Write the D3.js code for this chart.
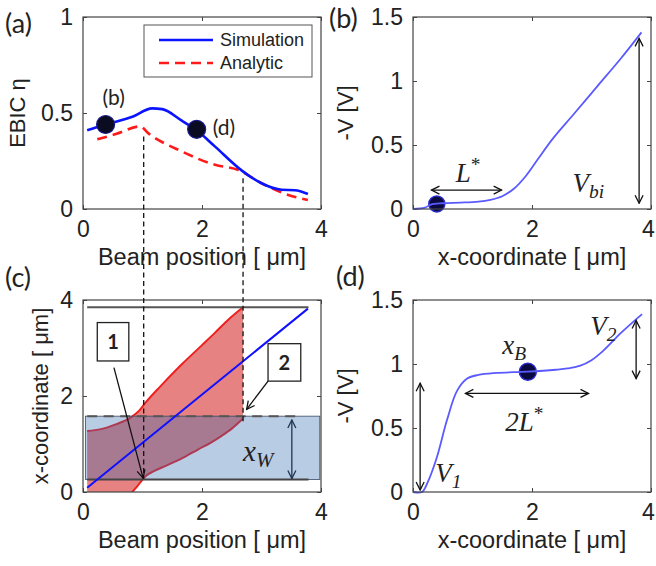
<!DOCTYPE html>
<html>
<head>
<meta charset="utf-8">
<script src="https://cdn.jsdelivr.net/npm/d3@7"></script>
<style>
body{margin:0;background:#fff;}
text{font-family:"Liberation Sans",Arial,sans-serif;fill:#222;}
.math{font-family:"Liberation Serif","Times New Roman",serif;font-style:italic;}
.tag{font-family:Lato,"Open Sans",sans-serif;}
</style>
</head>
<body>
<svg id="fig" width="656" height="566"></svg>
<script>
// (a) EBIC vs beam position
const simX = [0.07, 0.38, 0.83, 1.16, 1.33, 1.66, 1.91, 2.22, 2.67, 3.0, 3.34, 3.56, 3.78];
const simY = [0.41, 0.44, 0.48, 0.524, 0.52, 0.46, 0.41, 0.325, 0.2, 0.134, 0.1, 0.098, 0.078];
const anaX = [0.24, 0.55, 0.96, 1.1, 1.66, 2.22, 2.61, 3.0, 3.45, 3.78];
const anaY = [0.363, 0.39, 0.43, 0.394, 0.30, 0.23, 0.203, 0.134, 0.073, 0.047];
const markA = [[0.38, 0.44, "(b)"], [1.91, 0.415, "(d)"]];

// (b) potential, beam at 0.4 um
const vbX = [0, 0.2, 0.3, 0.5, 0.8, 1.1, 1.3, 1.5, 1.7, 1.9, 2.1, 2.35, 2.7, 3.1, 3.5, 3.84];
const vbY = [0, 0.01, 0.035, 0.045, 0.05, 0.058, 0.072, 0.1, 0.16, 0.26, 0.39, 0.55, 0.74, 0.96, 1.18, 1.38];

// (c) collection region
const upX = [0.07, 0.3, 0.55, 0.8, 0.94, 1.05, 1.3, 1.66, 2.0, 2.22, 2.45, 2.69];
const upY = [1.27, 1.31, 1.41, 1.55, 1.69, 1.86, 2.2, 2.66, 3.06, 3.32, 3.6, 3.85];
const loX = [0.8, 0.9, 1.05, 1.2, 1.38, 1.66, 1.94, 2.15, 2.33, 2.5, 2.69];
const loY = [-0.04, 0.1, 0.33, 0.44, 0.54, 0.7, 0.89, 1.03, 1.17, 1.32, 1.53];
const diagX = [0.07, 3.78];
const diagY = [0.09, 3.82];
const bandY = [0.26, 1.58];

// (d) potential, beam at 1.93 um
const vdX = [0, 0.15, 0.25, 0.4, 0.57, 0.74, 0.91, 1.1, 1.4, 1.92, 2.4, 2.6, 2.8, 3.0, 3.2, 3.5, 3.85];
const vdY = [0, 0, 0.08, 0.27, 0.56, 0.79, 0.886, 0.915, 0.93, 0.94, 0.955, 0.965, 0.985, 1.03, 1.105, 1.245, 1.39];
const markD = [1.93, 0.94];

const svg = d3.select("#fig");
svg.append("rect").attr("width", 656).attr("height", 566).attr("fill", "#fff");

const defs = svg.append("defs");
function arrowDef(id, col) {
  defs.append("marker").attr("id", id)
    .attr("viewBox", "0 0 10 10").attr("refX", 9).attr("refY", 5)
    .attr("markerWidth", 10).attr("markerHeight", 10)
    .attr("markerUnits", "userSpaceOnUse")
    .attr("orient", "auto-start-reverse")
    .append("path").attr("d", "M1,1 L9,5 L1,9")
    .attr("fill", "none").attr("stroke", col).attr("stroke-width", 1.3);
}
arrowDef("ah", "#111");
arrowDef("ahn", "#1f3552");

function panel(left, top, yDomain, yTicks) {
  const w = 238, h = 192;
  const g = svg.append("g").attr("transform", `translate(${left},${top})`);
  const x = d3.scaleLinear().domain([0, 4]).range([0, w]);
  const y = d3.scaleLinear().domain(yDomain).range([h, 0]);
  const fmt = d => d3.format("~g")(d);

  const xb = g.append("g").attr("class", "ax").attr("transform", `translate(0,${h})`)
    .call(d3.axisBottom(x).tickValues([0, 2, 4]).tickSizeInner(-4).tickSizeOuter(0).tickPadding(12).tickFormat(fmt));
  g.append("g").attr("class", "ax")
    .call(d3.axisTop(x).tickValues([0, 2, 4]).tickSizeInner(-4).tickSizeOuter(0).tickFormat(""));
  g.append("g").attr("class", "ax")
    .call(d3.axisLeft(y).tickValues(yTicks).tickSizeInner(-4).tickSizeOuter(0).tickPadding(10).tickFormat(fmt));
  g.append("g").attr("class", "ax").attr("transform", `translate(${w},0)`)
    .call(d3.axisRight(y).tickValues(yTicks).tickSizeInner(-4).tickSizeOuter(0).tickFormat(""));
  g.selectAll(".ax .domain").remove();
  g.selectAll(".ax line").attr("stroke", "#444");
  g.selectAll(".ax text").attr("font-size", 23).attr("fill", "#222")
    .attr("font-family", "Liberation Sans, Arial, sans-serif");
  // keep the last label inside the page on the right column
  if (left + w > 600) xb.selectAll(".tick:last-of-type text").attr("dx", -3);

  const plot = g.append("g");
  g.append("rect").attr("width", w).attr("height", h)
    .attr("fill", "none").attr("stroke", "#444").attr("stroke-width", 1.2);
  return {g, plot, x, y, w, h};
}

function xlabel(p, txt) {
  p.g.append("text").attr("x", p.w / 2).attr("y", p.h + 56)
    .attr("text-anchor", "middle").attr("font-size", 23.5).text(txt);
}
function ylabel(p, txt, dx) {
  p.g.append("text").attr("transform", `translate(${dx},${p.h / 2}) rotate(-90)`)
    .attr("text-anchor", "middle").attr("dominant-baseline", "central")
    .attr("font-size", 22).text(txt);
}
function tag(x, y, txt) {
  svg.append("text").attr("class", "tag").attr("x", x).attr("y", y)
    .attr("font-size", 27).text(txt);
}
function mathText(p, x, y, base, sub, sup, size) {
  const s = size || 27;
  const t = p.g.append("text").attr("class", "math")
    .attr("x", p.x(x)).attr("y", p.y(y)).attr("font-size", s).attr("fill", "#111");
  t.append("tspan").text(base);
  if (sub) t.append("tspan").attr("font-size", s * 0.72).attr("dy", 6).text(sub);
  if (sup) t.append("tspan").attr("font-size", s * 0.72).attr("font-style", "normal").attr("dy", -11).text(sup);
  return t;
}
function arrow(p, x1, y1, x2, y2, both, id) {
  const l = p.g.append("line")
    .attr("x1", p.x(x1)).attr("y1", p.y(y1)).attr("x2", p.x(x2)).attr("y2", p.y(y2))
    .attr("stroke", id === "ahn" ? "#1f3552" : "#111").attr("stroke-width", 1.3)
    .attr("marker-end", `url(#${id || "ah"})`);
  if (both) l.attr("marker-start", `url(#${id || "ah"})`);
}

const line = d3.line().curve(d3.curveMonotoneX);
const smooth = d3.line().curve(d3.curveCatmullRom.alpha(0.5));

// ---------- (a)
const pa = panel(83, 17, [0, 1], [0, 0.5, 1]);
pa.plot.append("path").attr("d", line(anaX.map((d, i) => [pa.x(d), pa.y(anaY[i])])))
  .attr("fill", "none").attr("stroke", "#ff1a1a").attr("stroke-width", 2.6).attr("stroke-dasharray", "10,6");
pa.plot.append("path").attr("d", line(simX.map((d, i) => [pa.x(d), pa.y(simY[i])])))
  .attr("fill", "none").attr("stroke", "#0a14ff").attr("stroke-width", 2.6);
pa.plot.selectAll("circle.m").data(markA).join("circle")
  .attr("cx", d => pa.x(d[0])).attr("cy", d => pa.y(d[1])).attr("r", 9)
  .attr("fill", "#0b0b22").attr("stroke", "#1a1a90").attr("stroke-width", 1.2);
pa.g.append("text").attr("class", "tag").attr("x", pa.x(markA[0][0]) + 8).attr("y", 105 - 17)
  .attr("text-anchor", "middle").attr("font-size", 21).text(markA[0][2]);
pa.g.append("text").attr("class", "tag").attr("x", pa.x(markA[1][0]) + 16).attr("y", 135 - 17)
  .attr("font-size", 21).text(markA[1][2]);
// legend
const lg = pa.g.append("g").attr("transform", "translate(61,8)");
lg.append("rect").attr("width", 168).attr("height", 52).attr("fill", "#fff").attr("stroke", "#555").attr("stroke-width", 1);
lg.append("line").attr("x1", 15).attr("x2", 69).attr("y1", 15).attr("y2", 15).attr("stroke", "#0a14ff").attr("stroke-width", 2.6);
lg.append("line").attr("x1", 15).attr("x2", 69).attr("y1", 38).attr("y2", 38).attr("stroke", "#ff1a1a").attr("stroke-width", 2.6).attr("stroke-dasharray", "10,6");
lg.append("text").attr("x", 76).attr("y", 21).attr("font-size", 18).text("Simulation");
lg.append("text").attr("x", 76).attr("y", 44).attr("font-size", 18).text("Analytic");
xlabel(pa, "Beam position [ μm]");
ylabel(pa, "EBIC η", -66);
tag(5, 33, "(a)");

// ---------- (b)
const pb = panel(413, 17, [0, 1.5], [0, 0.5, 1, 1.5]);
pb.plot.append("circle").attr("cx", pb.x(0.4)).attr("cy", pb.y(0.04)).attr("r", 8)
  .attr("fill", "#0a0a40").attr("stroke", "#2828c8").attr("stroke-width", 1.5);
pb.plot.append("path").attr("d", smooth(vbX.map((d, i) => [pb.x(d), pb.y(vbY[i])])))
  .attr("fill", "none").attr("stroke", "#5a5aff").attr("stroke-width", 1.8);
arrow(pb, 0.31, 0.148, 1.49, 0.148, true);
arrow(pb, 3.8, 1.333, 3.8, 0.045, true);
mathText(pb, 0.72, 0.21, "L", null, "*");
mathText(pb, 2.68, 0.135, "V", "bi");
xlabel(pb, "x-coordinate [ μm]");
ylabel(pb, "-V [V]", -68);
tag(329, 28, "(b)");

// ---------- (c)
const pc = panel(83, 300, [0, 4], [0, 2, 4]);
defs.append("clipPath").attr("id", "cclip")
  .append("rect").attr("width", pc.w).attr("height", pc.h);
const cp = pc.plot.attr("clip-path", "url(#cclip)");
// red collection region
const regionPts = upX.map((d, i) => [pc.x(d), pc.y(upY[i])])
  .concat(loX.slice().reverse().map((d, i) => [pc.x(d), pc.y(loY[loY.length - 1 - i])]))
  .concat([[pc.x(upX[0]), pc.y(-0.1)]]);
cp.append("path").attr("d", d3.line()(regionPts) + "Z").attr("fill", "#e68282").attr("stroke", "none");
cp.append("path").attr("d", line(upX.map((d, i) => [pc.x(d), pc.y(upY[i])])))
  .attr("fill", "none").attr("stroke", "#ee2020").attr("stroke-width", 2);
cp.append("path").attr("d", line(loX.map((d, i) => [pc.x(d), pc.y(loY[i])])))
  .attr("fill", "none").attr("stroke", "#ee2020").attr("stroke-width", 2);
// depletion band
cp.append("rect").attr("x", pc.x(0.04)).attr("width", pc.x(3.98) - pc.x(0.04))
  .attr("y", pc.y(bandY[1])).attr("height", pc.y(bandY[0]) - pc.y(bandY[1]))
  .attr("fill", "rgb(52,109,178)").attr("fill-opacity", 0.35)
  .attr("stroke", "#3a4a66").attr("stroke-width", 0.8);
cp.append("line").attr("x1", pc.x(0.07)).attr("x2", pc.x(3.79)).attr("y1", pc.y(bandY[0])).attr("y2", pc.y(bandY[0]))
  .attr("stroke", "#444").attr("stroke-width", 1.8);
cp.append("line").attr("x1", pc.x(0.07)).attr("x2", pc.x(3.67)).attr("y1", pc.y(bandY[1])).attr("y2", pc.y(bandY[1]))
  .attr("stroke", "#555").attr("stroke-width", 2).attr("stroke-dasharray", "10,6.5");
cp.append("line").attr("x1", pc.x(0.07)).attr("x2", pc.x(3.79)).attr("y1", pc.y(3.85)).attr("y2", pc.y(3.85))
  .attr("stroke", "#555").attr("stroke-width", 2);
cp.append("path").attr("d", d3.line()(diagX.map((d, i) => [pc.x(d), pc.y(diagY[i])])))
  .attr("fill", "none").attr("stroke", "#1010ff").attr("stroke-width", 2);
// numbered boxes
[[0.24, 0.77, 3.53, 2.73, "1"], [3.11, 3.66, 3.09, 2.31, "2"]].forEach(b => {
  pc.g.append("rect").attr("x", pc.x(b[0])).attr("y", pc.y(b[2]))
    .attr("width", pc.x(b[1]) - pc.x(b[0])).attr("height", pc.y(b[3]) - pc.y(b[2]))
    .attr("fill", "#fff").attr("stroke", "#222").attr("stroke-width", 1.3);
  pc.g.append("text").attr("class", "tag").attr("x", (pc.x(b[0]) + pc.x(b[1])) / 2)
    .attr("y", (pc.y(b[2]) + pc.y(b[3])) / 2).attr("dy", "0.36em")
    .attr("text-anchor", "middle").attr("font-size", 20).attr("font-weight", 700).text(b[4]);
});
arrow(pc, 0.52, 2.59, 1.01, 0.29, false);
arrow(pc, 3.11, 2.31, 2.75, 1.72, false);
arrow(pc, 3.51, 1.5, 3.51, 0.28, true, "ahn");
mathText(pc, 2.69, 0.65, "x", "W", null, 29).attr("fill", "#1f3552");
xlabel(pc, "Beam position [ μm]");
ylabel(pc, "x-coordinate [ μm]", -43);
tag(5, 287, "(c)");

// ---------- (d)
const pd = panel(413, 300, [0, 1.5], [0, 0.5, 1, 1.5]);
pd.plot.append("circle").attr("cx", pd.x(markD[0])).attr("cy", pd.y(markD[1])).attr("r", 8.5)
  .attr("fill", "#0a0a40").attr("stroke", "#2828c8").attr("stroke-width", 1.5);
pd.plot.append("path").attr("d", smooth(vdX.map((d, i) => [pd.x(d), pd.y(vdY[i])])))
  .attr("fill", "none").attr("stroke", "#5a5aff").attr("stroke-width", 1.8);
arrow(pd, 0.12, 0.85, 0.12, 0.015, true);
arrow(pd, 0.88, 0.77, 2.95, 0.77, true);
arrow(pd, 3.75, 1.34, 3.75, 0.886, true);
mathText(pd, 0.375, 0.078, "V", "1");
mathText(pd, 2.98, 1.224, "V", "2");
mathText(pd, 1.5, 1.08, "x", "B");
mathText(pd, 1.55, 0.48, "2L", null, "*");
xlabel(pd, "x-coordinate [ μm]");
ylabel(pd, "-V [V]", -68);
tag(336, 286, "(d)");

// dashed guides from (a) down to (c)
[[1.02, 0.377, 0.28], [2.69, 0.16, 1.41]].forEach(d => {
  svg.append("line")
    .attr("x1", 83 + pa.x(d[0])).attr("x2", 83 + pa.x(d[0]))
    .attr("y1", 17 + pa.y(d[1])).attr("y2", 300 + pc.y(d[2]))
    .attr("stroke", "#111").attr("stroke-width", 1.3).attr("stroke-dasharray", "5,3.5");
});
</script>
</body>
</html>
